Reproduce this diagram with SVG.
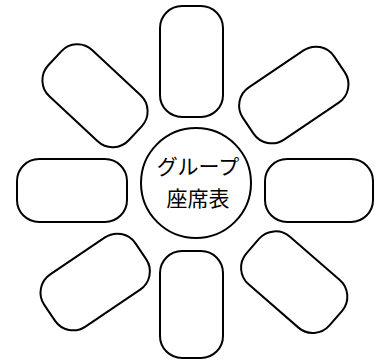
<svg xmlns="http://www.w3.org/2000/svg" width="376" height="360" viewBox="0 0 376 360">
<style>
.seat{fill:#fff;stroke:#000;stroke-width:2}
.table{fill:#fff;stroke:#000;stroke-width:2}
.lbl{font-family:"Liberation Sans","Noto Sans CJK JP",sans-serif;font-size:21px;fill:#000;text-anchor:middle}
</style>
<rect width="376" height="360" fill="#fff"/>
<g id="connectors"></g>
<g id="seat-top"><rect class="seat" x="160" y="6" width="63" height="111" rx="22"/></g>
<g id="seat-bottom"><rect class="seat" x="160" y="251" width="63" height="107" rx="22"/></g>
<g id="seat-left"><rect class="seat" x="17" y="159" width="110" height="63" rx="22"/></g>
<g id="seat-right"><rect class="seat" x="265" y="159" width="108" height="63" rx="22"/></g>
<g id="seat-upper-left"><rect class="seat" x="-55" y="-31.5" width="110" height="63" rx="22" transform="translate(95 95.8) rotate(43)"/></g>
<g id="seat-upper-right"><rect class="seat" x="-55" y="-31.5" width="110" height="63" rx="22" transform="translate(293.8 95) rotate(-34)"/></g>
<g id="seat-lower-left"><rect class="seat" x="-55" y="-31.5" width="110" height="63" rx="22" transform="translate(95.2 282) rotate(-34)"/></g>
<g id="seat-lower-right"><rect class="seat" x="-55" y="-31.5" width="110" height="63" rx="22" transform="translate(294.2 282.2) rotate(41)"/></g>
<g id="table">
<circle class="table" cx="196" cy="183" r="55"/>
<text class="lbl" x="198" y="174">グループ</text>
<text class="lbl" x="198" y="206">座席表</text>
</g>
</svg>
